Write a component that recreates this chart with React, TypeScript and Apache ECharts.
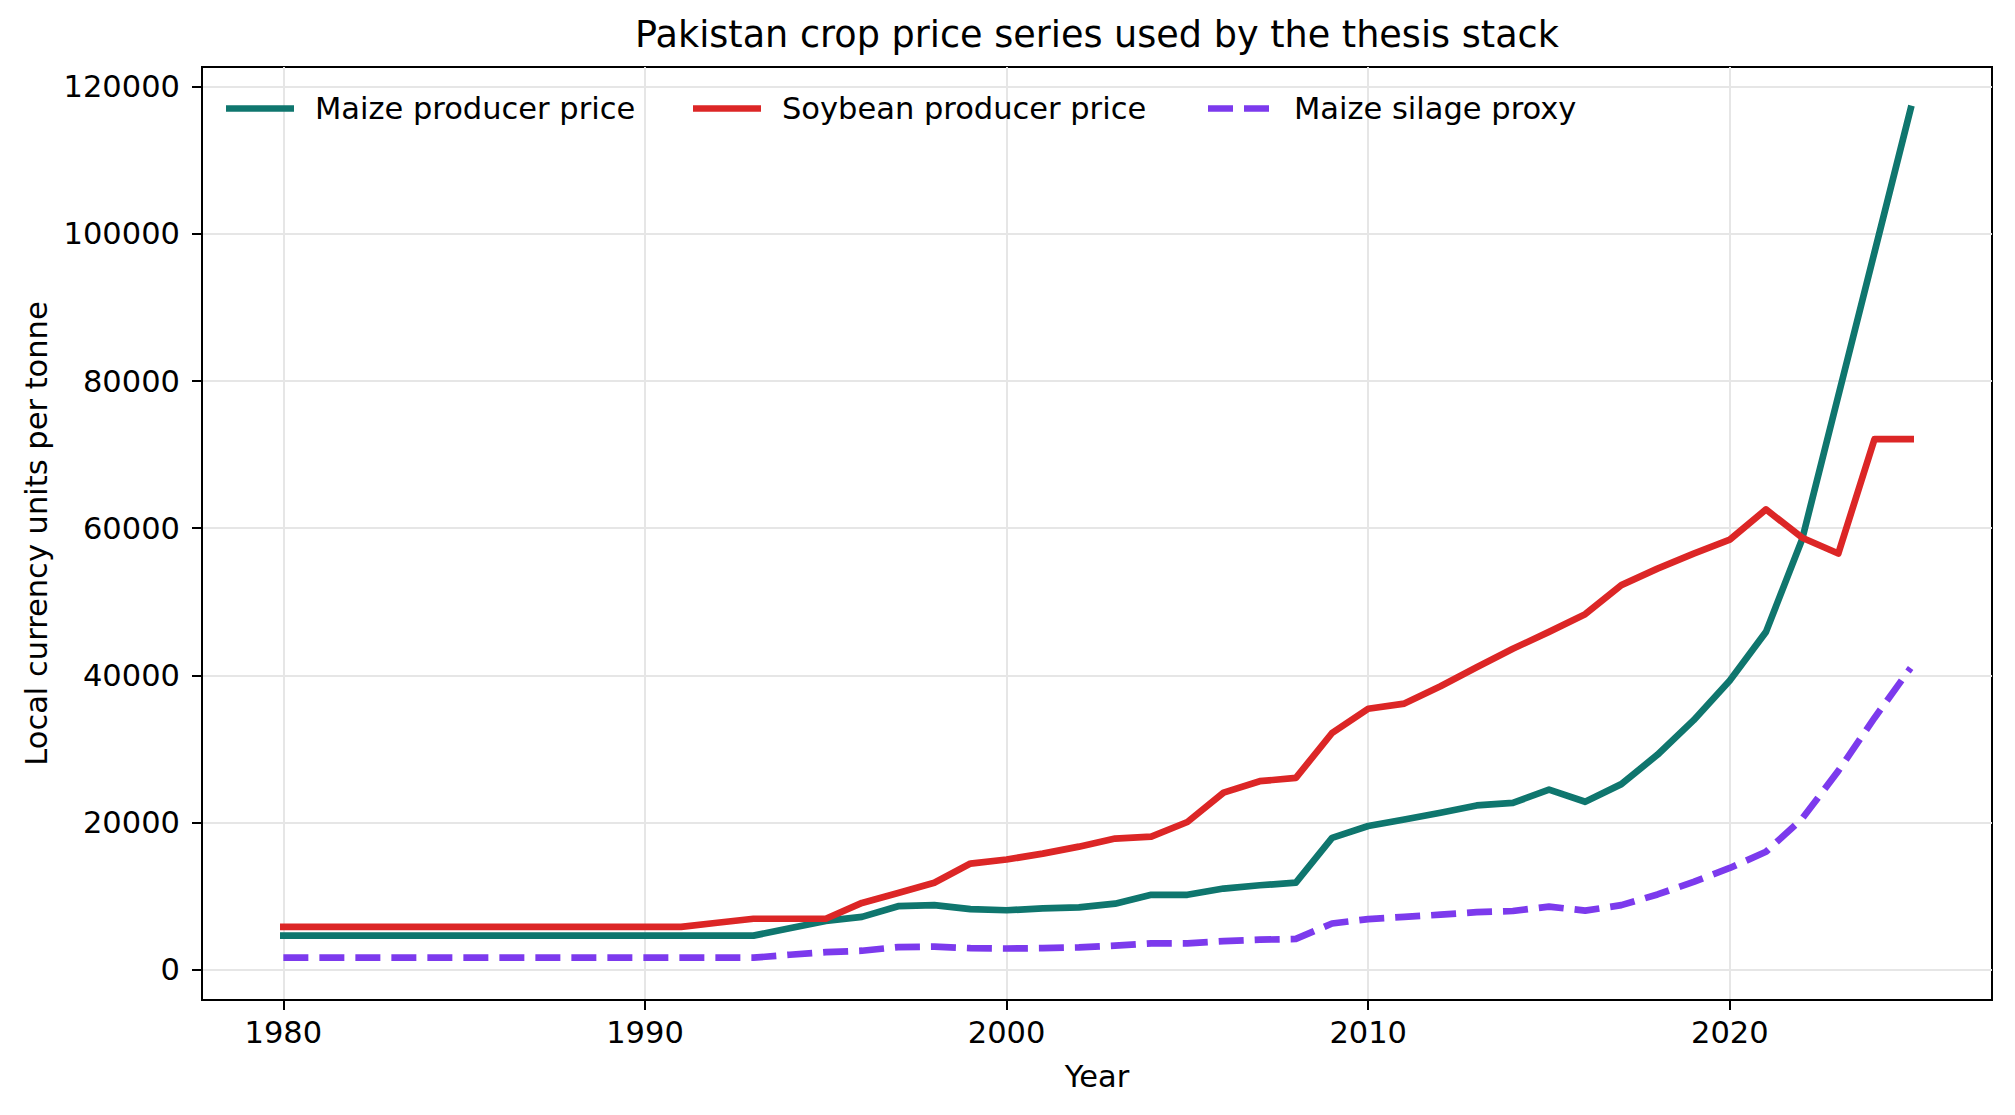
import React, { useEffect, useRef } from "react";
import * as echarts from "echarts";

const titleText = "Pakistan crop price series used by the thesis stack";
const xAxisName = "Year";
const yAxisName = "Local currency units per tonne";

const years = [
  1980, 1981, 1982, 1983, 1984, 1985, 1986, 1987, 1988, 1989,
  1990, 1991, 1992, 1993, 1994, 1995, 1996, 1997, 1998, 1999,
  2000, 2001, 2002, 2003, 2004, 2005, 2006, 2007, 2008, 2009,
  2010, 2011, 2012, 2013, 2014, 2015, 2016, 2017, 2018, 2019,
  2020, 2021, 2022, 2023, 2024, 2025,
];

const maizePrice = [
  4600, 4600, 4600, 4600, 4600, 4600, 4600, 4600, 4600, 4600,
  4600, 4600, 4600, 4600, 5600, 6600, 7150, 8600, 8750, 8200,
  8050, 8300, 8450, 8950, 10150, 10150, 11000, 11450, 11800, 17900,
  19500, 20400, 21300, 22300, 22650, 24450, 22800, 25200, 29200, 33900,
  39300, 45900, 58500, 78000, 97500, 117000,
];

const soybeanPrice = [
  5800, 5800, 5800, 5800, 5800, 5800, 5800, 5800, 5800, 5800,
  5800, 5800, 6350, 6900, 6900, 6900, 9050, 10400, 11800, 14400,
  14950, 15750, 16700, 17800, 18050, 20050, 24050, 25600, 26050, 32150,
  35450, 36150, 38500, 41100, 43600, 45900, 48300, 52250, 54500, 56550,
  58450, 62550, 58700, 56550, 72100, 72100,
];

const silageProxy = [
  1600, 1600, 1600, 1600, 1600, 1600, 1600, 1600, 1600, 1600,
  1600, 1600, 1600, 1600, 2000, 2350, 2550, 3050, 3100, 2900,
  2850, 2900, 3000, 3250, 3550, 3550, 3850, 4050, 4150, 6250,
  6850, 7150, 7450, 7800, 7950, 8550, 8000, 8750, 10200, 11900,
  13800, 16000, 20500, 27000, 34200, 41000,
];

const seriesNames = ["Maize producer price", "Soybean producer price", "Maize silage proxy"];
const xTicks = [1980, 1990, 2000, 2010, 2020];
const yTicks = [0, 20000, 40000, 60000, 80000, 100000, 120000];

export default function App() {
  const ref = useRef<HTMLDivElement>(null);

  useEffect(() => {
    const el = ref.current;
    if (!el) return;
    const chart = echarts.init(el, null, { renderer: "svg" });
    const font = "DejaVu Sans";

    const plotLeft = 202;
    const plotRight = 1992;
    const titleSize = 36.6;
    let titleW = 925;
    const ctx = document.createElement("canvas").getContext("2d");
    if (ctx) {
      ctx.font = `${titleSize}px "${font}"`;
      titleW = ctx.measureText(titleText).width;
    }
    const titleLeft = (plotLeft + plotRight) / 2 - titleW / 2;

    const pairs = (vals: number[]) => years.map((y, i) => [y, vals[i]]);

    const colors = ["#0f766e", "#dc2626", "#7c3aed"];
    const lw = 6.7;
    const solidIcon = "path://M0,0H68V6.7H0Z";
    const dashIcon = "path://M0,0H25V6.7H0Z M36,0H61V6.7H36Z";
    const legendDefs = [
      { left: 226, icon: solidIcon, w: 68, pad: 16 },
      { left: 693, icon: solidIcon, w: 68, pad: 16 },
      { left: 1208, icon: dashIcon, w: 61, pad: 20 },
    ];

    const fs = 30.5;

    const option: any = {
      animation: false,
      backgroundColor: "#ffffff",
      textStyle: { fontFamily: font },
      title: {
        text: titleText,
        left: titleLeft,
        top: 16,
        padding: 0,
        textStyle: { fontFamily: font, fontSize: titleSize, fontWeight: "normal", color: "#000" },
      },
      legend: seriesNames.map((name, i) => ({
        data: [name],
        left: legendDefs[i].left,
        top: 93,
        padding: 0,
        icon: legendDefs[i].icon,
        itemWidth: legendDefs[i].w,
        itemHeight: lw,
        symbolKeepAspect: false,
        itemStyle: { borderWidth: 0, color: colors[i] },
        selectedMode: false,
        textStyle: {
          fontFamily: font,
          fontSize: fs,
          color: "#000",
          padding: [0, 0, 0, legendDefs[i].pad],
        },
      })),
      grid: {
        left: plotLeft,
        right: 2015 - plotRight,
        top: 67,
        bottom: 115,
        show: true,
        borderColor: "#000",
        borderWidth: 2,
        backgroundColor: "transparent",
      },
      xAxis: {
        type: "value",
        min: 1977.75,
        max: 2027.25,
        name: xAxisName,
        nameLocation: "middle",
        nameGap: 61,
        nameTextStyle: { fontFamily: font, fontSize: fs, color: "#000" },
        axisLine: { show: true, onZero: false, lineStyle: { color: "#000", width: 2 } },
        axisTick: {
          show: true,
          length: 10,
          lineStyle: { color: "#000", width: 2 },
          customValues: xTicks,
        },
        axisLabel: {
          fontFamily: font,
          fontSize: fs,
          color: "#000",
          margin: 17,
          customValues: xTicks,
          formatter: (v: number) => String(v),
        },
        splitLine: { show: true, lineStyle: { color: "#e6e6e6", width: 2 } },
      },
      yAxis: {
        type: "value",
        min: -4150,
        max: 122700,
        name: yAxisName,
        nameLocation: "middle",
        nameGap: 150,
        nameTextStyle: { fontFamily: font, fontSize: fs, color: "#000" },
        axisLine: { show: true, onZero: false, lineStyle: { color: "#000", width: 2 } },
        axisTick: {
          show: true,
          length: 10,
          lineStyle: { color: "#000", width: 2 },
          customValues: yTicks,
        },
        axisLabel: {
          fontFamily: font,
          fontSize: fs,
          color: "#000",
          margin: 22,
          customValues: yTicks,
          formatter: (v: number) => String(v),
        },
        splitLine: { show: true, lineStyle: { color: "#e6e6e6", width: 2 } },
      },
      series: [
        {
          name: seriesNames[0],
          type: "line",
          data: pairs(maizePrice),
          symbol: "none",
          color: colors[0],
          lineStyle: { color: colors[0], width: lw, cap: "square", join: "round" },
        },
        {
          name: seriesNames[1],
          type: "line",
          data: pairs(soybeanPrice),
          symbol: "none",
          color: colors[1],
          lineStyle: { color: colors[1], width: lw, cap: "square", join: "round" },
        },
        {
          name: seriesNames[2],
          type: "line",
          data: pairs(silageProxy),
          symbol: "none",
          color: colors[2],
          lineStyle: { color: colors[2], width: lw, type: [25, 11], cap: "butt", join: "round" },
        },
      ],
    };

    chart.setOption(option);
    return () => chart.dispose();
  }, []);

  return (
    <div
      ref={ref}
      style={{ position: "fixed", left: 0, top: 0, width: 2015, height: 1115, background: "#fff" }}
    />
  );
}
